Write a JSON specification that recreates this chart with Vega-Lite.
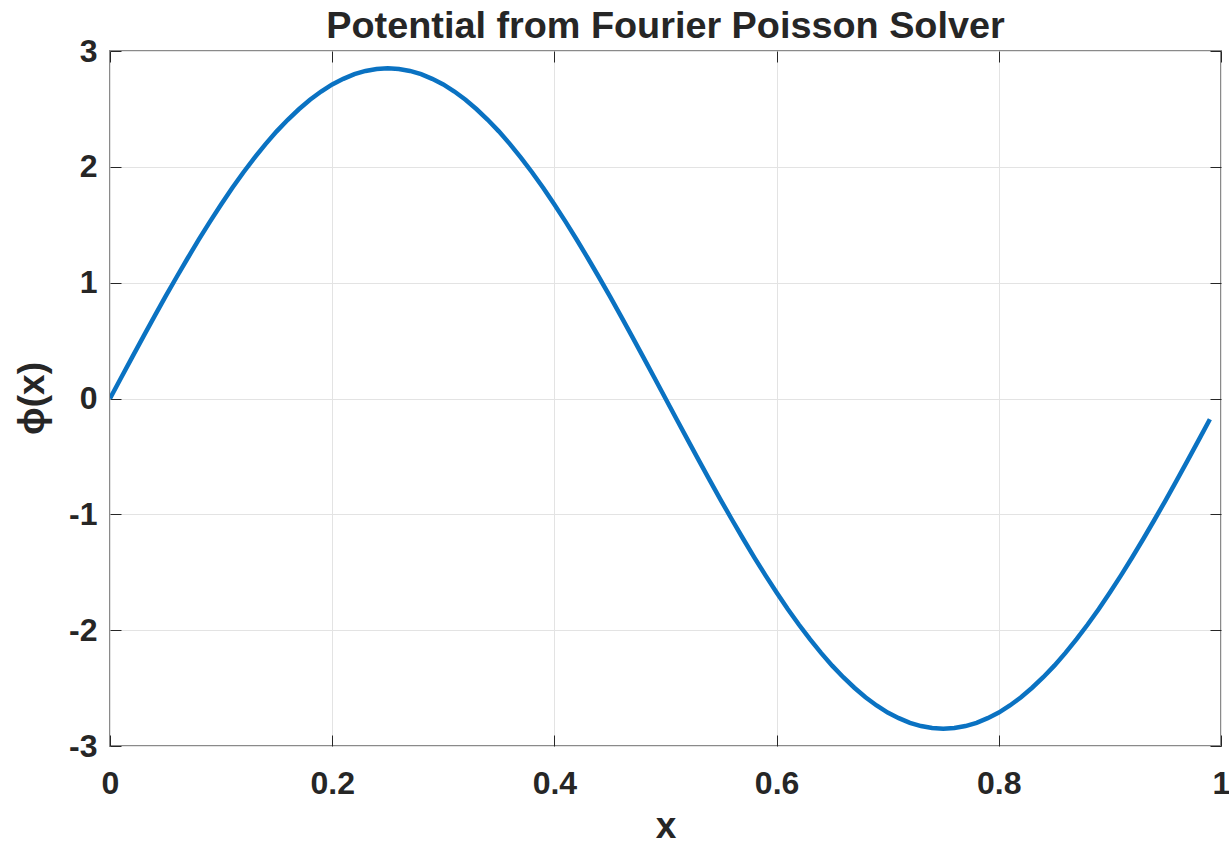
{
  "$schema": "https://vega.github.io/schema/vega-lite/v6.json",
  "width": 1111,
  "height": 695,
  "autosize": {"type": "none"},
  "padding": {"left": 110, "top": 51, "right": 8, "bottom": 98},
  "background": "white",
  "title": {
    "text": "Potential from Fourier Poisson Solver",
    "font": "Liberation Sans",
    "fontSize": 37.8,
    "fontWeight": "bold",
    "color": "#262626",
    "frame": "group",
    "offset": 14,
    "dy": 25,
    "anchor": "middle"
  },
  "config": {
    "view": {"stroke": "#8a8a8a", "strokeWidth": 2},
    "axis": {
      "labelFont": "Liberation Sans",
      "labelFontWeight": "bold",
      "labelFontSize": 32,
      "labelColor": "#262626",
      "titleFont": "Liberation Sans",
      "titleFontWeight": "bold",
      "titleFontSize": 37,
      "titleColor": "#262626",
      "domain": false,
      "tickColor": "#262626",
      "tickWidth": 1,
      "tickSize": -11,
      "labelFlush": false,
      "labelOverlap": false,
      "gridColor": "#e3e3e3",
      "gridWidth": 1
    }
  },
  "data": {
    "values": [
      {"x": 0.00, "phi": 0},
      {"x": 0.01, "phi": 0.179},
      {"x": 0.02, "phi": 0.357},
      {"x": 0.03, "phi": 0.534},
      {"x": 0.04, "phi": 0.709},
      {"x": 0.05, "phi": 0.881},
      {"x": 0.06, "phi": 1.049},
      {"x": 0.07, "phi": 1.213},
      {"x": 0.08, "phi": 1.373},
      {"x": 0.09, "phi": 1.527},
      {"x": 0.10, "phi": 1.675},
      {"x": 0.11, "phi": 1.817},
      {"x": 0.12, "phi": 1.951},
      {"x": 0.13, "phi": 2.078},
      {"x": 0.14, "phi": 2.196},
      {"x": 0.15, "phi": 2.306},
      {"x": 0.16, "phi": 2.406},
      {"x": 0.17, "phi": 2.497},
      {"x": 0.18, "phi": 2.579},
      {"x": 0.19, "phi": 2.650},
      {"x": 0.20, "phi": 2.711},
      {"x": 0.21, "phi": 2.760},
      {"x": 0.22, "phi": 2.800},
      {"x": 0.23, "phi": 2.828},
      {"x": 0.24, "phi": 2.844},
      {"x": 0.25, "phi": 2.850},
      {"x": 0.26, "phi": 2.844},
      {"x": 0.27, "phi": 2.828},
      {"x": 0.28, "phi": 2.800},
      {"x": 0.29, "phi": 2.760},
      {"x": 0.30, "phi": 2.711},
      {"x": 0.31, "phi": 2.650},
      {"x": 0.32, "phi": 2.579},
      {"x": 0.33, "phi": 2.497},
      {"x": 0.34, "phi": 2.406},
      {"x": 0.35, "phi": 2.306},
      {"x": 0.36, "phi": 2.196},
      {"x": 0.37, "phi": 2.078},
      {"x": 0.38, "phi": 1.951},
      {"x": 0.39, "phi": 1.817},
      {"x": 0.40, "phi": 1.675},
      {"x": 0.41, "phi": 1.527},
      {"x": 0.42, "phi": 1.373},
      {"x": 0.43, "phi": 1.213},
      {"x": 0.44, "phi": 1.049},
      {"x": 0.45, "phi": 0.881},
      {"x": 0.46, "phi": 0.709},
      {"x": 0.47, "phi": 0.534},
      {"x": 0.48, "phi": 0.357},
      {"x": 0.49, "phi": 0.179},
      {"x": 0.50, "phi": 0},
      {"x": 0.51, "phi": -0.179},
      {"x": 0.52, "phi": -0.357},
      {"x": 0.53, "phi": -0.534},
      {"x": 0.54, "phi": -0.709},
      {"x": 0.55, "phi": -0.881},
      {"x": 0.56, "phi": -1.049},
      {"x": 0.57, "phi": -1.213},
      {"x": 0.58, "phi": -1.373},
      {"x": 0.59, "phi": -1.527},
      {"x": 0.60, "phi": -1.675},
      {"x": 0.61, "phi": -1.817},
      {"x": 0.62, "phi": -1.951},
      {"x": 0.63, "phi": -2.078},
      {"x": 0.64, "phi": -2.196},
      {"x": 0.65, "phi": -2.306},
      {"x": 0.66, "phi": -2.406},
      {"x": 0.67, "phi": -2.497},
      {"x": 0.68, "phi": -2.579},
      {"x": 0.69, "phi": -2.650},
      {"x": 0.70, "phi": -2.711},
      {"x": 0.71, "phi": -2.760},
      {"x": 0.72, "phi": -2.800},
      {"x": 0.73, "phi": -2.828},
      {"x": 0.74, "phi": -2.844},
      {"x": 0.75, "phi": -2.850},
      {"x": 0.76, "phi": -2.844},
      {"x": 0.77, "phi": -2.828},
      {"x": 0.78, "phi": -2.800},
      {"x": 0.79, "phi": -2.760},
      {"x": 0.80, "phi": -2.711},
      {"x": 0.81, "phi": -2.650},
      {"x": 0.82, "phi": -2.579},
      {"x": 0.83, "phi": -2.497},
      {"x": 0.84, "phi": -2.406},
      {"x": 0.85, "phi": -2.306},
      {"x": 0.86, "phi": -2.196},
      {"x": 0.87, "phi": -2.078},
      {"x": 0.88, "phi": -1.951},
      {"x": 0.89, "phi": -1.817},
      {"x": 0.90, "phi": -1.675},
      {"x": 0.91, "phi": -1.527},
      {"x": 0.92, "phi": -1.373},
      {"x": 0.93, "phi": -1.213},
      {"x": 0.94, "phi": -1.049},
      {"x": 0.95, "phi": -0.881},
      {"x": 0.96, "phi": -0.709},
      {"x": 0.97, "phi": -0.534},
      {"x": 0.98, "phi": -0.357},
      {"x": 0.99, "phi": -0.179}
    ]
  },
  "layer": [
    {
      "mark": {"type": "line", "color": "#0a72c2", "strokeWidth": 4.5, "clip": true},
      "encoding": {
        "x": {
          "field": "x",
          "type": "quantitative",
          "scale": {"domain": [0, 1], "nice": false, "zero": false},
          "axis": {
            "orient": "bottom",
            "title": "x",
            "values": [0, 0.2, 0.4, 0.6, 0.8, 1],
            "format": "~g",
            "labelPadding": 33,
            "grid": true,
            "titleY": 62,
            "titleBaseline": "top"
          }
        },
        "y": {
          "field": "phi",
          "type": "quantitative",
          "scale": {"domain": [-3, 3], "nice": false, "zero": false},
          "axis": {
            "orient": "left",
            "title": "ϕ(x)",
            "values": [-3, -2, -1, 0, 1, 2, 3],
            "format": "~g",
            "labelExpr": "replace(datum.label, '−', '-')",
            "labelPadding": 24,
            "grid": true,
            "titleAngle": -90,
            "titleX": -78,
            "titleY": 347,
            "titleBaseline": "middle",
            "titleAlign": "center"
          }
        }
      }
    },
    {
      "mark": {"type": "line", "opacity": 0},
      "encoding": {
        "x": {
          "field": "x",
          "type": "quantitative",
          "axis": {
            "orient": "top",
            "title": null,
            "values": [0, 0.2, 0.4, 0.6, 0.8, 1],
            "labels": false,
            "grid": false
          }
        },
        "y": {
          "field": "phi",
          "type": "quantitative",
          "axis": {
            "orient": "right",
            "title": null,
            "values": [-3, -2, -1, 0, 1, 2, 3],
            "labels": false,
            "grid": false
          }
        }
      }
    }
  ],
  "resolve": {"axis": {"x": "independent", "y": "independent"}}
}
